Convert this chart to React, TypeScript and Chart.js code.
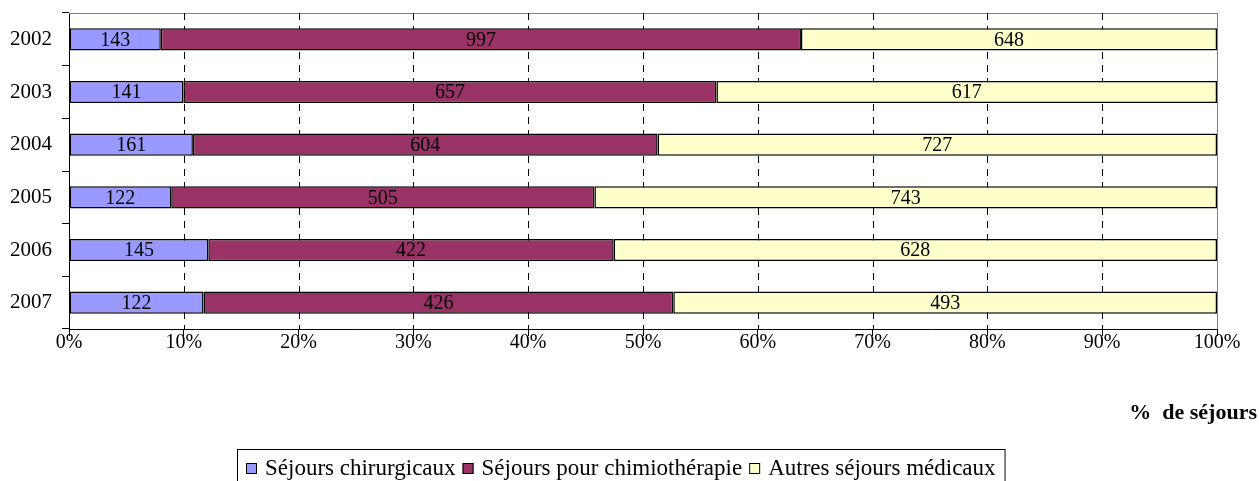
import React, { useEffect, useRef } from "react";
import { Chart, registerables } from "chart.js";

Chart.register(...registerables);

const years = ["2002", "2003", "2004", "2005", "2006", "2007"];
const chirurgicaux = [143, 141, 161, 122, 145, 122];
const chimiotherapie = [997, 657, 604, 505, 422, 426];
const autres = [648, 617, 727, 743, 628, 493];
const seriesNames = ["Séjours chirurgicaux", "Séjours pour chimiothérapie", "Autres séjours médicaux"];
const seriesColors = ["#9999FF", "#993366", "#FFFFCC"];
const axisTitle = "%  de séjours";

const FONT = "'Liberation Serif', 'Times New Roman', serif";

export default function App() {
  const ref = useRef<HTMLCanvasElement | null>(null);

  useEffect(() => {
    const raw = [chirurgicaux, chimiotherapie, autres];
    const totals = years.map((_, i) => raw.reduce((s, arr) => s + arr[i], 0));
    const pct = raw.map((arr) => arr.map((v, i) => (v / totals[i]) * 100));

    const gridPlugin = {
      id: "dashGrid",
      beforeDatasetsDraw(chart: any) {
        const { ctx, chartArea, scales } = chart;
        ctx.save();
        ctx.strokeStyle = "#808080";
        ctx.lineWidth = 1;
        ctx.beginPath();
        ctx.moveTo(chartArea.left, chartArea.top + 0.5);
        ctx.lineTo(chartArea.right, chartArea.top + 0.5);
        ctx.moveTo(chartArea.right + 0.5, chartArea.top);
        ctx.lineTo(chartArea.right + 0.5, chartArea.bottom);
        ctx.stroke();
        ctx.strokeStyle = "#000000";
        ctx.setLineDash([7, 6]);
        for (let v = 10; v < 100; v += 10) {
          const x = Math.round(scales.x.getPixelForValue(v)) + 0.5;
          ctx.beginPath();
          ctx.moveTo(x, chartArea.top);
          ctx.lineTo(x, chartArea.bottom);
          ctx.stroke();
        }
        ctx.restore();
      },
      afterDatasetsDraw(chart: any) {
        const { ctx } = chart;
        ctx.save();
        ctx.font = `20px ${FONT}`;
        ctx.fillStyle = "#000";
        ctx.textAlign = "center";
        ctx.textBaseline = "middle";
        chart.data.datasets.forEach((ds: any, di: number) => {
          const meta = chart.getDatasetMeta(di);
          meta.data.forEach((el: any, i: number) => {
            const cx = (el.x + el.base) / 2;
            ctx.fillText(String(raw[di][i]), cx, el.y + 1);
          });
        });
        ctx.restore();
      },
      afterDraw(chart: any) {
        const { ctx } = chart;
        ctx.save();
        // axis title
        ctx.font = `bold 22px ${FONT}`;
        ctx.fillStyle = "#000";
        ctx.textAlign = "right";
        ctx.textBaseline = "alphabetic";
        ctx.fillText(axisTitle, 1257, 419);
        // legend
        ctx.font = `23px ${FONT}`;
        ctx.textBaseline = "middle";
        const sq = 11;
        const gapText = 8;
        const gapItem = 7;
        const widths = seriesNames.map((n) => ctx.measureText(n).width);
        let total = 0;
        widths.forEach((w, i) => {
          total += sq + gapText + w + (i < widths.length - 1 ? gapItem : 0);
        });
        const padX = 9;
        const boxW = total + padX * 2;
        const boxLeft = Math.round(621 - boxW / 2);
        const boxTop = 449;
        ctx.strokeStyle = "#000";
        ctx.lineWidth = 1;
        ctx.strokeRect(boxLeft + 0.5, boxTop + 0.5, boxW, 40);
        let x = boxLeft + padX;
        const cy = 468;
        seriesNames.forEach((n, i) => {
          ctx.fillStyle = seriesColors[i];
          ctx.fillRect(x, cy - 5, sq, sq);
          ctx.strokeStyle = "#000";
          ctx.strokeRect(x + 0.5, cy - 5 + 0.5, sq - 1, sq - 1);
          ctx.fillStyle = "#000";
          ctx.textAlign = "left";
          ctx.fillText(n, x + sq + gapText, cy + 1);
          x += sq + gapText + widths[i] + gapItem;
        });
        ctx.restore();
      },
    };

    const chart = new Chart(ref.current as HTMLCanvasElement, {
      type: "bar",
      data: {
        labels: years,
        datasets: seriesNames.map((name, i) => ({
          label: name,
          data: pct[i],
          backgroundColor: seriesColors[i],
          borderColor: "#000000",
          borderWidth: 1.5,
          borderSkipped: false,
          barPercentage: 0.42,
          categoryPercentage: 1,
        })),
      },
      options: {
        indexAxis: "y",
        animation: false,
        responsive: false,
        maintainAspectRatio: false,
        layout: { padding: { top: 13, right: 42, left: 0, bottom: 0 } },
        plugins: {
          legend: { display: false },
          tooltip: { enabled: false },
          title: { display: false },
        },
        scales: {
          x: {
            stacked: true,
            min: 0,
            max: 100,
            ticks: {
              stepSize: 10,
              color: "#000",
              font: { family: FONT, size: 20 },
              padding: -5,
              maxRotation: 0,
              callback: (v: any) => `${v}%`,
            },
            grid: {
              drawOnChartArea: false,
              drawTicks: true,
              tickLength: 7,
              tickColor: "#000",
              tickWidth: 1,
            },
            border: { color: "#000", width: 1 },
            afterFit: (scale: any) => {
              scale.height = 152;
            },
          },
          y: {
            stacked: true,
            ticks: {
              color: "#000",
              font: { family: FONT, size: 21, lineHeight: 0.1 },
              padding: 10,
            },
            grid: {
              drawOnChartArea: false,
              offset: true,
              drawTicks: true,
              tickLength: 7,
              tickColor: "#000",
              tickWidth: 1,
            },
            border: { color: "#000", width: 1 },
            afterFit: (scale: any) => {
              scale.width = 69;
            },
          },
        },
      },
      plugins: [gridPlugin],
    } as any);

    return () => chart.destroy();
  }, []);

  return (
    <div style={{ position: "absolute", left: 0, top: 0, width: 1259, height: 481, background: "#fff" }}>
      <canvas ref={ref} width={1259} height={481} style={{ display: "block", width: 1259, height: 481 }} />
    </div>
  );
}
